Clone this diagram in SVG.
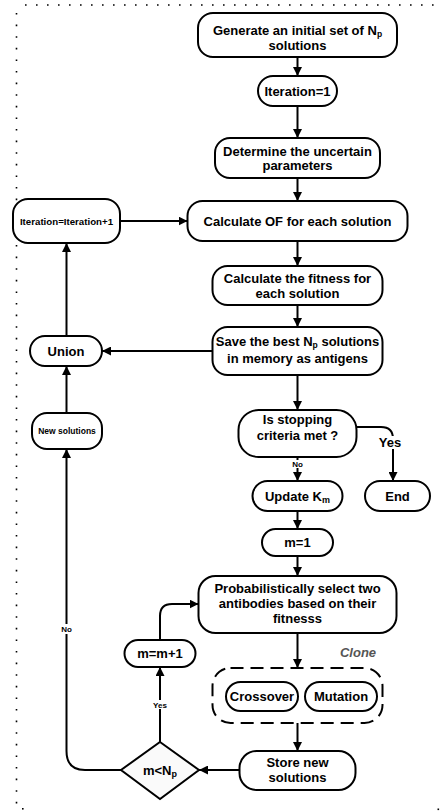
<svg xmlns="http://www.w3.org/2000/svg" width="444" height="811" viewBox="0 0 444 811">
<defs>
<style>
.n{fill:#fff;stroke:#000;stroke-width:2}
.t{font-family:"Liberation Sans",Arial,sans-serif;font-weight:bold;font-size:13px;text-anchor:middle;fill:#000}
.s{font-size:8.5px}
.c{fill:none;stroke:#000;stroke-width:2;marker-end:url(#ah)}
.l{fill:none;stroke:#000;stroke-width:2}
.bg{fill:#fff}
.dot{fill:none;stroke:#000;stroke-width:1.6}
</style>
<marker id="ah" viewBox="0 0 10 10" refX="10" refY="5" markerWidth="9" markerHeight="9" markerUnits="userSpaceOnUse" orient="auto"><path d="M0,0 L10,5 L0,10 z" fill="#000"/></marker>
</defs>
<rect width="444" height="811" fill="#fff"/>
<g id="frame">
<line class="dot" x1="25" y1="5" x2="442" y2="5" stroke-dasharray="1.6 9.4"/>
<line class="dot" x1="16.5" y1="13" x2="16.5" y2="805" stroke-dasharray="1.6 10"/>
<rect x="22" y="808" width="1.6" height="1.6" fill="#000"/>
<rect x="437.5" y="808.5" width="1.6" height="1.6" fill="#000"/>
</g>
<g id="connectors">
<path class="c" d="M297.5,57 V76"/>
<path class="c" d="M297.5,106 V138"/>
<path class="c" d="M297.5,178 V201"/>
<path class="c" d="M120,221 H187.5"/>
<path class="c" d="M297.5,241 V266"/>
<path class="c" d="M297.5,305 V327"/>
<path class="c" d="M212.5,351 H102"/>
<path class="c" d="M66.5,336 V243"/>
<path class="c" d="M66.5,413 V366"/>
<path class="c" d="M297.5,375 V410"/>
<path class="c" d="M357,427 H381 Q393,427 393,439 V481"/>
<rect class="bg" x="377" y="436" width="26" height="13"/>
<text class="t" x="390" y="447">Yes</text>
<path class="c" d="M297.5,457 V481"/>
<rect class="bg" x="289" y="460" width="17" height="8"/>
<text class="t s" x="297.5" y="467" style="font-size:8px">No</text>
<path class="c" d="M297.5,511 V529"/>
<path class="c" d="M297.5,556 V576"/>
<path class="c" d="M160,640 V616 Q160,604 172,604 H198.5"/>
<path class="c" d="M297.5,633 V668"/>
<path class="c" d="M297.5,723 V751"/>
<path class="c" d="M239.5,770 H199"/>
<path class="c" d="M160,742 V667"/>
<rect class="bg" x="151" y="700" width="18" height="9"/>
<text class="t s" x="160" y="707.5" style="font-size:8px">Yes</text>
<path class="c" d="M121,770 H85 Q66.5,770 66.5,751 V449"/>
<rect class="bg" x="58" y="624" width="17" height="10"/>
<text class="t s" x="66.5" y="632" style="font-size:8px">No</text>
</g>
<g id="n-generate">
<rect class="n" x="198" y="13" width="199" height="44" rx="15"/>
<text class="t" x="297.5" y="35">Generate an initial set of N<tspan font-size="8.5" dy="1.5">p</tspan></text>
<text class="t" x="297.5" y="50">solutions</text>
</g>
<g id="n-iter1">
<rect class="n" x="258" y="76" width="79" height="30" rx="15"/>
<text class="t" x="297.5" y="96">Iteration=1</text>
</g>
<g id="n-determine">
<rect class="n" x="215" y="138" width="165" height="40" rx="15"/>
<text class="t" x="297.5" y="156">Determine the uncertain</text>
<text class="t" x="297.5" y="169.5">parameters</text>
</g>
<g id="n-calcof">
<rect class="n" x="187.5" y="201" width="220" height="40" rx="15"/>
<text class="t" x="297.5" y="226">Calculate OF for each solution</text>
</g>
<g id="n-iterinc">
<rect class="n" x="13" y="199" width="107" height="44" rx="15"/>
<text class="t" x="66.5" y="224.5" style="font-size:9.7px">Iteration=Iteration+1</text>
</g>
<g id="n-fitness">
<rect class="n" x="212.5" y="266" width="170" height="39" rx="15"/>
<text class="t" x="297.5" y="283">Calculate the fitness for</text>
<text class="t" x="297.5" y="298">each solution</text>
</g>
<g id="n-save">
<rect class="n" x="212.5" y="327" width="170" height="48" rx="15"/>
<text class="t" x="297.5" y="346">Save the best N<tspan font-size="8.5" dy="1.5">p</tspan><tspan dy="-1.5"> solutions</tspan></text>
<text class="t" x="297.5" y="363">in memory as antigens</text>
</g>
<g id="n-union">
<rect class="n" x="30" y="336" width="72" height="30" rx="15"/>
<text class="t" x="66" y="356">Union</text>
</g>
<g id="n-stop">
<rect class="n" x="238.5" y="410" width="118" height="47" rx="20"/>
<text class="t" x="297.5" y="424">Is stopping</text>
<text class="t" x="297.5" y="440">criteria met ?</text>
</g>
<g id="n-newsol">
<rect class="n" x="32" y="413" width="70" height="36" rx="15"/>
<text class="t s" x="67" y="434">New solutions</text>
</g>
<g id="n-updatekm">
<rect class="n" x="252.5" y="481" width="90" height="30" rx="15"/>
<text class="t" x="297.5" y="501">Update K<tspan font-size="9" dy="1.5">m</tspan></text>
</g>
<g id="n-end">
<rect class="n" x="365" y="481" width="65" height="30" rx="15"/>
<text class="t" x="397.5" y="501">End</text>
</g>
<g id="n-m1">
<rect class="n" x="262" y="529" width="71" height="27" rx="13.5"/>
<text class="t" x="297.5" y="547">m=1</text>
</g>
<g id="n-select">
<rect class="n" x="198.5" y="576" width="198" height="57" rx="17"/>
<text class="t" x="297.5" y="593">Probabilistically select two</text>
<text class="t" x="297.5" y="608">antibodies based on their</text>
<text class="t" x="297.5" y="623">fitnesss</text>
</g>
<g id="n-mm1">
<rect class="n" x="124.5" y="640" width="71" height="27" rx="13.5"/>
<text class="t" x="160" y="658">m=m+1</text>
</g>
<g id="n-clone">
<text class="t" x="358" y="657" style="font-style:italic;fill:#555">Clone</text>
<rect x="212.5" y="668" width="170" height="55" rx="18" fill="none" stroke="#000" stroke-width="2" stroke-dasharray="13 7"/>
</g>
<g id="n-crossover">
<rect class="n" x="226" y="682" width="72" height="29" rx="14.5"/>
<text class="t" x="262" y="701">Crossover</text>
</g>
<g id="n-mutation">
<rect class="n" x="305" y="682" width="72" height="29" rx="14.5"/>
<text class="t" x="341" y="701">Mutation</text>
</g>
<g id="n-store">
<rect class="n" x="239.5" y="751" width="116" height="39" rx="17"/>
<text class="t" x="297.5" y="767">Store new</text>
<text class="t" x="297.5" y="782">solutions</text>
</g>
<g id="n-decision">
<polygon points="160,742 199,770 160,799 121,770" fill="#fafafa" stroke="#000" stroke-width="2"/>
<text class="t" x="160" y="775">m&lt;N<tspan font-size="9" dy="2">p</tspan></text>
</g>
</svg>
